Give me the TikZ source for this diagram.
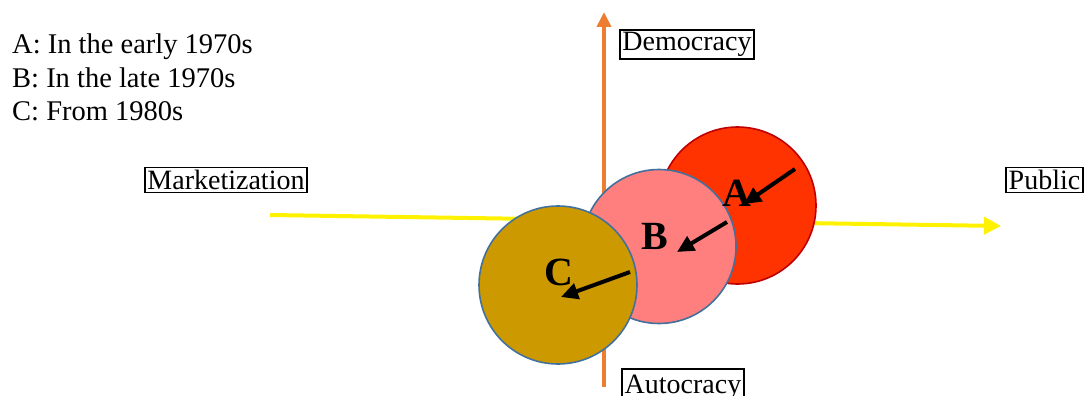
\documentclass[tikz,border=0pt]{standalone}
\usepackage{fontspec}
\setmainfont{Liberation Serif}
\usetikzlibrary{arrows.meta}
\definecolor{axisorange}{HTML}{ED7D31}
\definecolor{circA}{HTML}{FF3300}
\definecolor{circAline}{HTML}{C00000}
\definecolor{circB}{HTML}{FF7F7F}
\definecolor{circC}{HTML}{CC9900}
\definecolor{circline}{HTML}{41719C}
\tikzset{
  period/.style={circle, minimum size=157pt, inner sep=0pt, line width=1.6pt, draw=circline},
  axisbox/.style={draw, line width=1.6pt, inner sep=2.5pt, font=\fontsize{28}{32}\selectfont},
  legend/.style={anchor=base west, inner sep=0pt, font=\fontsize{28.5}{33}\selectfont},
  letter/.style={font=\fontsize{40}{44}\selectfont\bfseries, inner sep=0pt},
  moveto/.style={line width=4pt, -{Triangle[length=17pt,width=16pt]}}
}
\begin{document}
\begin{tikzpicture}[x=1pt,y=-1pt]
            \useasboundingbox (0,0) rectangle (1084,396);
            %axes
            \coordinate (west) at (270,215);
            \coordinate (east) at (1001,226);
            \coordinate (south) at (604,387);
            \coordinate (north) at (604,12);
			\draw[yellow, line width=4pt, -{Triangle[length=17pt,width=17pt]}] (west)--(east);

			\draw[axisorange, line width=4pt, -{Triangle[length=15pt,width=14pt]}] (south)--(north);

            \node[axisbox] (demo) at (687,44.5) {Democracy};

            \node[axisbox, anchor=north] (auto) at (683,368) {\rule{0pt}{22pt}Autocracy};

            \node[axisbox] (pub) at (1044.5,180) {Public};

            \node[axisbox] (mkt) at (226,180) {Marketization};

            %periods
            \node[period, fill=circA, draw=circAline] (cA) at (737.5,205.5) {};

            \node[period, fill=circB, minimum size=154pt] (cB) at (659,246.5) {};

            \node[period, fill=circC, minimum size=158pt] (cC) at (558,285) {};

            \node[letter] (lA) at (737,193.5) {A};

            \node[letter] (lB) at (655,236) {B};

            \node[letter] (lC) at (558.5,272.5) {C};

            \coordinate (a1) at (795,169);
            \coordinate (a2) at (744,204);
            \coordinate (b1) at (727,222);
            \coordinate (b2) at (677,252);
            \coordinate (c1) at (630,272);
            \coordinate (c2) at (561,297);
			\draw[moveto] (a1)--(a2);

			\draw[moveto] (b1)--(b2);

			\draw[moveto] (c1)--(c2);

            %legend
            \node[legend] (legA) at (12,54) {A: In the early 1970s};

            \node[legend] (legB) at (12,87) {B: In the late 1970s};

            \node[legend] (legC) at (12,120) {C: From 1980s};
        \end{tikzpicture}
\end{document}
